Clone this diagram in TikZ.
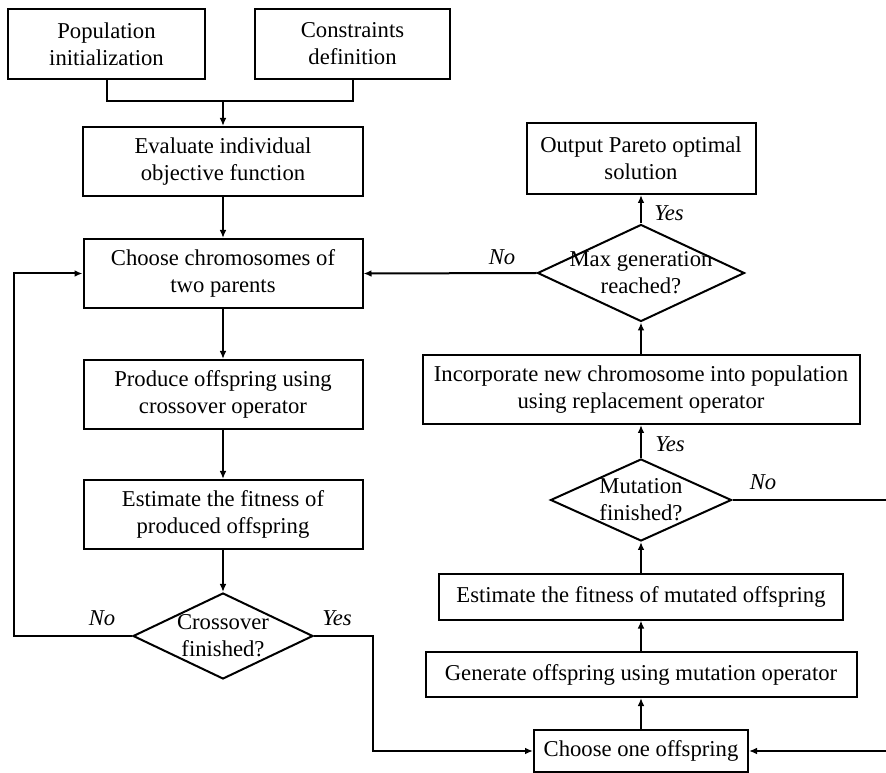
\documentclass[tikz,border=0pt]{standalone}
\usepackage{fontspec}
\setmainfont{Liberation Serif}
\usetikzlibrary{shapes.geometric,arrows.meta}
\tikzset{blk/.style={draw,line width=1.5pt,align=center,inner sep=2pt}}
\tikzset{dec/.style={diamond,draw,line width=1.5pt,inner sep=0pt}}
\tikzset{lbl/.style={font=\fontsize{17}{20.25}\selectfont\itshape,inner sep=0pt}}
\tikzset{flow/.style={line width=1.5pt,-{Latex[length=6pt,width=5pt]}},plain/.style={line width=1.5pt}}

\begin{document}
\begin{tikzpicture}[x=0.75pt,y=-0.75pt,font=\fontsize{17}{20.25}\selectfont]
      \useasboundingbox (0,0) rectangle (886,773);
      % left column
      \node[blk,minimum width=147.75pt,minimum height=52.5pt] (pop) at (106.5,44) {Population\\initialization};
      \node[blk,minimum width=146.25pt,minimum height=52.5pt] (cons) at (352.5,44) {Constraints\\definition};
      \coordinate (join) at (223,101);
      \node[blk,minimum width=210pt,minimum height=51.75pt] (eval) at (223,161.5) {Evaluate individual\\objective function};
      \node[blk,minimum width=209.25pt,minimum height=51.75pt] (choose) at (223,273.5) {Choose chromosomes of\\two parents};
      \node[blk,minimum width=209.25pt,minimum height=51.75pt] (prod) at (223,394.5) {Produce offspring using\\crossover operator};
      \node[blk,minimum width=209.25pt,minimum height=51.75pt] (estp) at (223,514.5) {Estimate the fitness of\\produced offspring};
      \node[dec,minimum width=135pt,minimum height=64.5pt] (cross) at (223,636) {};
      \node[align=center,inner sep=0pt] (cross-t) at (cross) {Crossover\\finished?};
      \coordinate (cl) at (14,636);
      \coordinate (cr) at (373,636);
      % right column
      \node[blk,minimum width=171.75pt,minimum height=53.25pt] (out) at (641,158.5) {Output Pareto optimal\\solution};
      \node[dec,minimum width=155.25pt,minimum height=72.75pt] (maxg) at (641,273) {};
      \node[align=center,inner sep=0pt] (maxg-t) at (maxg) {Max generation\\reached?};
      \node[blk,minimum width=327.75pt,minimum height=51.75pt] (inc) at (641,389.5) {Incorporate new chromosome into population\\using replacement operator};
      \node[dec,minimum width=135.75pt,minimum height=61.5pt] (mut) at (641,500) {};
      \node[align=center,inner sep=0pt] (mut-t) at (mut) {Mutation\\finished?};
      \node[blk,minimum width=303pt,minimum height=33.75pt] (estm) at (641,597) {Estimate the fitness of mutated offspring};
      \node[blk,minimum width=323.25pt,minimum height=33.75pt] (gen) at (641,674.5) {Generate offspring using mutation operator};
      \node[blk,minimum width=160.5pt,minimum height=31.5pt] (one) at (641,751) {Choose one offspring};
      \coordinate (rr) at (889,500);
      % labels
      \node[lbl] (no1) at (102,618) {No};
      \node[lbl] (yes1) at (337,618) {Yes};
      \node[lbl] (no2) at (502,257) {No};
      \node[lbl] (yes2) at (669,213) {Yes};
      \node[lbl] (yes3) at (670,444) {Yes};
      \node[lbl] (no3) at (763,482) {No};
      % connectors
      \draw[plain] (pop.south) |- (join) -| (cons.south);
      \draw[flow] (join) -- (eval);
      \draw[flow] (eval) -- (choose);
      \draw[flow] (choose) -- (prod);
      \draw[flow] (prod) -- (estp);
      \draw[flow] (estp) -- (cross.north);
      \draw[flow] (cross.west) -- (cl) |- (choose.west);
      \draw[flow] (cross.east) -- (cr) |- (one.west);
      \draw[flow] (one) -- (gen);
      \draw[flow] (gen) -- (estm);
      \draw[flow] (estm) -- (mut.south);
      \draw[flow] (mut.north) -- (inc);
      \draw[flow] (mut.east) -- (rr) |- (one.east);
      \draw[flow] (inc) -- (maxg.south);
      \draw[flow] (maxg.north) -- (out);
      \draw[flow] (maxg.west) -- (choose.east);
    \end{tikzpicture}
\end{document}
